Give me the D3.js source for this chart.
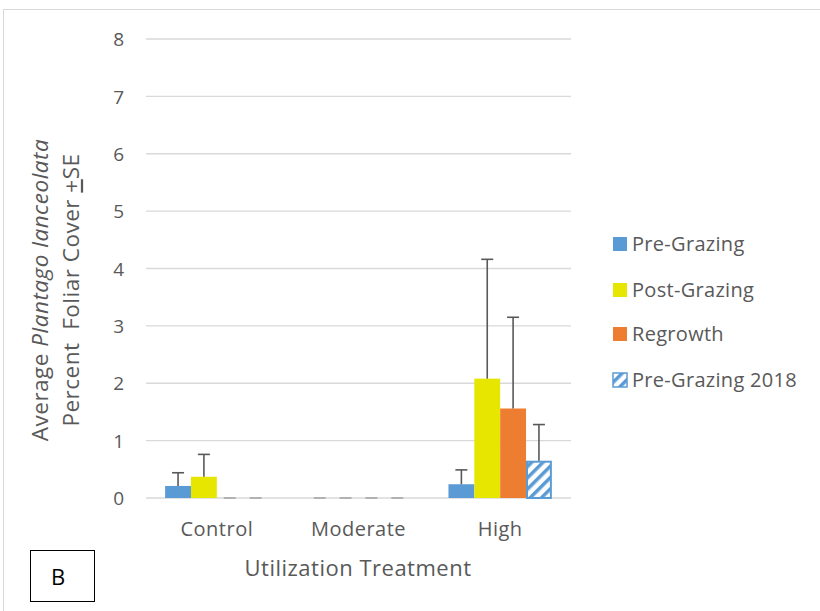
<!DOCTYPE html>
<html><head><meta charset="utf-8">
<script src="https://cdn.jsdelivr.net/npm/d3@7/dist/d3.min.js"></script>
<style>body{margin:0;background:#fff}svg{display:block}text{font-family:"Open Sans",sans-serif}</style>
</head><body>
<svg id="c" width="820" height="611"></svg>
<script>
const categories = ["Control", "Moderate", "High"];
const seriesNames = ["Pre-Grazing", "Post-Grazing", "Regrowth", "Pre-Grazing 2018"];
const preGrazing = [0.21, 0, 0.24];
const preGrazingSE = [0.23, 0, 0.25];
const postGrazing = [0.37, 0, 2.08];
const postGrazingSE = [0.39, 0, 2.08];
const regrowth = [0, 0, 1.56];
const regrowthSE = [0, 0, 1.59];
const preGrazing2018 = [0, 0, 0.65];
const preGrazing2018SE = [0, 0, 0.63];
const yTicks = [0, 1, 2, 3, 4, 5, 6, 7, 8];

const values = [preGrazing, postGrazing, regrowth, preGrazing2018];
const ses = [preGrazingSE, postGrazingSE, regrowthSE, preGrazing2018SE];
const colors = ["#5b9bd5", "#e6e600", "#ed7d31", "pattern"];

const svg = d3.select("#c");
const defs = svg.append("defs");
const pat = defs.append("pattern").attr("id","hatch").attr("patternUnits","userSpaceOnUse")
  .attr("width",8).attr("height",8).attr("patternTransform","rotate(45)");
pat.append("rect").attr("width",8).attr("height",8).attr("fill","#fff");
pat.append("rect").attr("width",3.5).attr("height",8).attr("fill","#5b9bd5");
const fillOf = i => colors[i] === "pattern" ? "url(#hatch)" : colors[i];

// outer chart border
svg.append("rect").attr("x",3.5).attr("y",9.5).attr("width",830).attr("height",620)
  .attr("fill","none").attr("stroke","#d9d9d9").attr("stroke-width",1);

const plotLeft = 146, plotRight = 571, plotTop = 39, plotBottom = 498;
const y = d3.scaleLinear().domain([0, 8]).range([plotBottom, plotTop]);
const x0 = d3.scaleBand().domain(categories).range([plotLeft, plotRight]).paddingInner(0.27).paddingOuter(0.135);
const x1 = d3.scaleBand().domain(d3.range(4)).range([0, x0.bandwidth()]);

// gridlines
svg.append("g").selectAll("line").data(yTicks).join("line")
  .attr("x1", plotLeft).attr("x2", plotRight).attr("y1", d => y(d)).attr("y2", d => y(d))
  .attr("stroke", "#d9d9d9").attr("stroke-width", 1.3);

// y axis labels
const yAxis = d3.axisLeft(y).tickValues(yTicks).tickSize(0).tickPadding(0).tickFormat(d3.format("d"));
const ya = svg.append("g").attr("transform", `translate(${plotLeft-22},0)`).call(yAxis);
ya.select(".domain").remove();
ya.attr("font-family", null).attr("font-size", null);
ya.selectAll("text").attr("fill","#595959").style("font-size","19px").attr("dy","0.35em");

// x axis labels
const xAxis = d3.axisBottom(x0).tickSize(0).tickPadding(0);
const xa = svg.append("g").attr("transform", `translate(0,${plotBottom+31})`).call(xAxis);
xa.select(".domain").remove();
xa.attr("font-family", null).attr("font-size", null);
xa.selectAll("text").attr("fill","#595959").style("font-size","20px").style("letter-spacing","0.5px").attr("dy","0.35em");

// bars
const groups = svg.append("g").selectAll("g").data(categories).join("g")
  .attr("transform", d => `translate(${x0(d)},0)`);
groups.each(function(cat, ci) {
  const g = d3.select(this);
  for (let si = 0; si < 4; si++) {
    const v = values[si][ci], se = ses[si][ci];
    const bx = x1(si), bw = x1.bandwidth();
    if (v > 0) {
      if (colors[si] === "pattern") {
        g.append("rect").attr("x", bx+1).attr("y", y(v)+1).attr("width", bw-2).attr("height", y(0)-y(v)-1)
          .attr("fill", fillOf(si)).attr("stroke", "#5b9bd5").attr("stroke-width", 2);
      } else {
        g.append("rect").attr("x", bx).attr("y", y(v)).attr("width", bw).attr("height", y(0)-y(v))
          .attr("fill", fillOf(si));
      }
    }
    const cx = bx + bw/2;
    g.append("line").attr("x1", cx).attr("x2", cx).attr("y1", y(v)).attr("y2", y(v+se))
      .attr("stroke", "#595959").attr("stroke-width", 1.6);
    g.append("line").attr("x1", cx-6).attr("x2", cx+6).attr("y1", y(v+se)).attr("y2", y(v+se))
      .attr("stroke", v+se === 0 ? "#a6a6a6" : "#595959").attr("stroke-width", 1.6);
  }
});

// legend
const legY = [244, 290, 334, 380];
const leg = svg.append("g").selectAll("g").data(seriesNames).join("g")
  .attr("transform", (d,i) => `translate(613,${legY[i]})`);
leg.append("rect").attr("x", 0).attr("y", -7).attr("width", 14).attr("height", 14)
  .attr("fill", (d,i) => fillOf(i))
  .attr("stroke", (d,i) => colors[i]==="pattern" ? "#5b9bd5" : "none").attr("stroke-width", 1.5);
leg.append("text").attr("x", 19).attr("y", 0).attr("dy", "0.35em").text(d => d)
  .attr("fill", "#595959").style("font-size", "20px").style("letter-spacing","0.3px");

// axis titles
svg.append("text").attr("x", 358).attr("y", 568).attr("dy","0.35em").attr("text-anchor","middle")
  .attr("fill","#595959").style("font-size","22px").style("letter-spacing","0.5px").text("Utilization Treatment");

const yt = svg.append("g").attr("transform", "translate(40,290) rotate(-90)");
const t1 = yt.append("text").attr("text-anchor","middle").attr("y",0).attr("dy","0.35em")
  .attr("fill","#595959").style("font-size","22.5px").style("letter-spacing","0.5px");
t1.append("tspan").text("Average ");
t1.append("tspan").style("font-style","italic").text("Plantago lanceolata");
const t2 = yt.append("text").attr("text-anchor","middle").attr("y",31).attr("dy","0.35em")
  .attr("fill","#595959").style("font-size","22.5px").style("letter-spacing","0.5px");
t2.append("tspan").text("Percent\u00a0 Foliar Cover ");
t2.append("tspan").style("text-decoration","underline").text("+");
t2.append("tspan").text("SE");

// B box
svg.append("rect").attr("x", 30.5).attr("y", 550.5).attr("width", 64).attr("height", 51)
  .attr("fill","#fff").attr("stroke","#000").attr("stroke-width",1);
svg.append("text").attr("x", 58).attr("y", 577).attr("dy","0.35em").attr("text-anchor","middle")
  .attr("fill","#000").style("font-size","22px").text("B");
</script>
</body></html>
